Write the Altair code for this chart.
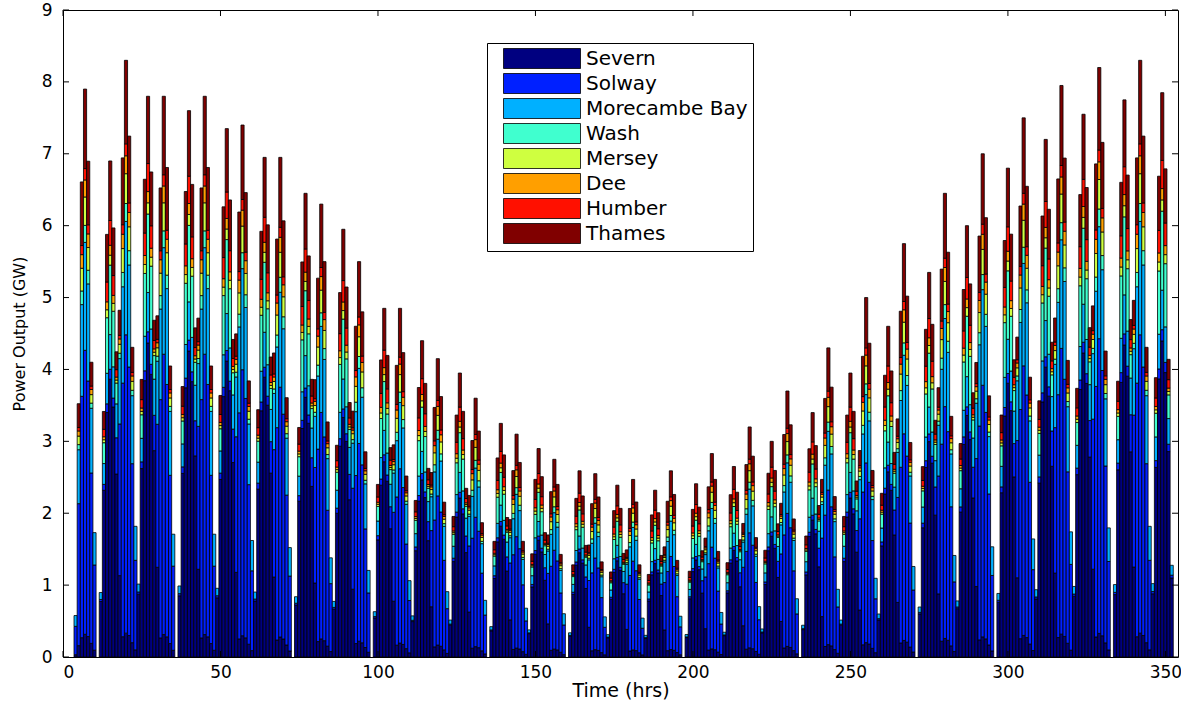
import altair as alt
import pandas as pd

# ---- data ----
SERIES = ["Severn", "Solway", "Morecambe Bay", "Wash", "Mersey", "Dee", "Humber", "Thames"]
COLORS = ["#000080", "#0020ff", "#00b0ff", "#40ffcf", "#cfff40", "#ff9f00", "#ff1000", "#800000"]
HOURS = list(range(1, 354))

# Severn / east-coast generation pulses (peak hour, peak total GW)
W_HOURS = [15, 27, 40, 52, 64, 77, 89, 102, 114, 126, 139, 151, 164, 176, 188, 201, 213, 225,
           238, 250, 262, 275, 287, 300, 312, 324, 337, 349]
W_PEAK = [6.9, 7.8, 7.6, 7.35, 6.95, 6.45, 5.95, 4.85, 4.4, 3.95, 3.25, 2.9, 2.59, 2.39, 2.32,
          2.41, 2.65, 3.0, 3.4, 3.95, 4.6, 5.35, 6.0, 6.8, 7.2, 7.55, 7.75, 7.85]
# Solway / Morecambe (west-coast) generation pulses
M_HOURS = [7, 20, 32, 45, 57, 69, 82, 94, 107, 119, 131, 144, 156, 169, 181, 193, 206, 218,
           230, 243, 255, 267, 280, 292, 305, 317, 329, 342]
M_PEAK = [7.9, 8.3, 7.8, 7.8, 7.4, 6.95, 6.3, 5.5, 4.85, 4.15, 3.6, 3.1, 2.75, 2.55, 2.47,
          2.59, 2.83, 3.2, 3.7, 4.3, 5.0, 5.75, 6.45, 7.0, 7.5, 7.95, 8.2, 8.3]

# share of each scheme at the peak hour of the two pulse types (Severn ... Thames)
W_SHARE = [0.56, 0.02, 0.07, 0.14, 0.02, 0.02, 0.05, 0.12]
M_SHARE = [0.04, 0.50, 0.19, 0.03, 0.05, 0.03, 0.02, 0.14]
# hourly pulse shapes around the peak hour (offsets -3 .. +3)
PROFILE_BASE_W = [0.2, 0.6, 0.88, 1.0, 0.9, 0.65, 0.25]
PROFILE_BASE_M = [0.1, 0.5, 0.85, 1.0, 0.9, 0.6, 0.3]
PROFILE_TOP = [0.0, 0.3, 0.8, 1.0, 0.8, 0.3, 0.0]
BASE_SERIES = [True, True, True, False, False, False, False, False]

X_TICKS = [0, 50, 100, 150, 200, 250, 300, 350]
Y_TICKS = [0, 1, 2, 3, 4, 5, 6, 7, 8, 9]

# ---- build the stacked hourly table ----
n = len(HOURS)
vals = {s: [0.0] * n for s in SERIES}


def add_pulses(hours, peaks, shares, base_profile):
    for t, pk in zip(hours, peaks):
        for k in range(-3, 4):
            h = t + k
            if 1 <= h <= n:
                for si, s in enumerate(SERIES):
                    prof = base_profile if BASE_SERIES[si] else PROFILE_TOP
                    vals[s][h - 1] += shares[si] * pk * prof[k + 3]


add_pulses(W_HOURS, W_PEAK, W_SHARE, PROFILE_BASE_W)
add_pulses(M_HOURS, M_PEAK, M_SHARE, PROFILE_BASE_M)

rows = []
for i, h in enumerate(HOURS):
    base = 0.0
    for s in SERIES:
        v = vals[s][i]
        if v > 0.005:
            rows.append({"series": s, "x0": h - 0.5, "x1": h + 0.5, "y0": base, "y1": base + v})
            base += v
df = pd.DataFrame(rows)

W, H = 1115, 647
FONT = "DejaVu Sans"
xscale = alt.Scale(domain=[0, 354], nice=False, zero=False)
yscale = alt.Scale(domain=[0, 9], nice=False)

XAXIS = alt.Axis(values=X_TICKS, ticks=False, grid=False, domain=False, format="d",
                 labelFont=FONT, labelFontSize=17, labelColor="black", labelPadding=7,
                 title="Time (hrs)", titleFont=FONT, titleFontSize=19,
                 titleFontWeight="normal", titleColor="black", titlePadding=1)
YAXIS = alt.Axis(values=Y_TICKS, ticks=False, grid=False, domain=False, format="d",
                 labelFont=FONT, labelFontSize=17, labelColor="black", labelPadding=11,
                 title="Power Output (GW)", titleFont=FONT, titleFontSize=16,
                 titleFontWeight="normal", titleColor="black", titlePadding=14)

bars = alt.Chart(df).mark_bar(stroke="black").encode(
    x=alt.X("x0:Q", scale=xscale, axis=XAXIS),
    x2="x1:Q",
    y=alt.Y("y0:Q", scale=yscale, axis=YAXIS),
    y2="y1:Q",
    color=alt.Color("series:N", scale=alt.Scale(domain=SERIES, range=COLORS), title=None,
                    legend=alt.Legend(orient="none", legendX=424, legendY=33, direction="vertical",
                                      symbolType="M-3.85,-1H3.85V1H-3.85Z", symbolSize=400,
                                      symbolStrokeColor="black", symbolStrokeWidth=1,
                                      symbolOpacity=1, symbolOffset=39.5,
                                      labelFont=FONT, labelFontSize=20, labelColor="black",
                                      labelOffset=33.5, labelLimit=400,
                                      padding=5, rowPadding=0,
                                      strokeColor="black", fillColor="white")),
    strokeWidth=alt.StrokeWidth("series:N", legend=None,
                                scale=alt.Scale(domain=SERIES,
                                                range=[0.8, 0.8, 0.8, 1.1, 1.5, 1.5, 1.2, 1.9])),
)

xt = pd.DataFrame({"v": X_TICKS})
yt = pd.DataFrame({"v": Y_TICKS})
tick_bottom = alt.Chart(xt).mark_rule(color="black", strokeWidth=1).encode(
    x=alt.X("v:Q", scale=xscale, axis=XAXIS), y=alt.value(H), y2=alt.value(H - 6))
tick_top = alt.Chart(xt).mark_rule(color="black", strokeWidth=1).encode(
    x=alt.X("v:Q", scale=xscale, axis=XAXIS), y=alt.value(0), y2=alt.value(6))
tick_left = alt.Chart(yt).mark_rule(color="black", strokeWidth=1).encode(
    y=alt.Y("v:Q", scale=yscale, axis=YAXIS), x=alt.value(0), x2=alt.value(6))
tick_right = alt.Chart(yt).mark_rule(color="black", strokeWidth=1).encode(
    y=alt.Y("v:Q", scale=yscale, axis=YAXIS), x=alt.value(W), x2=alt.value(W - 6))

chart = alt.layer(bars, tick_bottom, tick_top, tick_left, tick_right).properties(
    width=W, height=H,
    autosize=alt.AutoSizeParams(type="none"),
    padding={"left": 63, "top": 10, "right": 3, "bottom": 46},
    background="white",
).configure_view(stroke="black", strokeWidth=1)

chart.save("out.html", embed_options={"renderer": "svg", "actions": False})
